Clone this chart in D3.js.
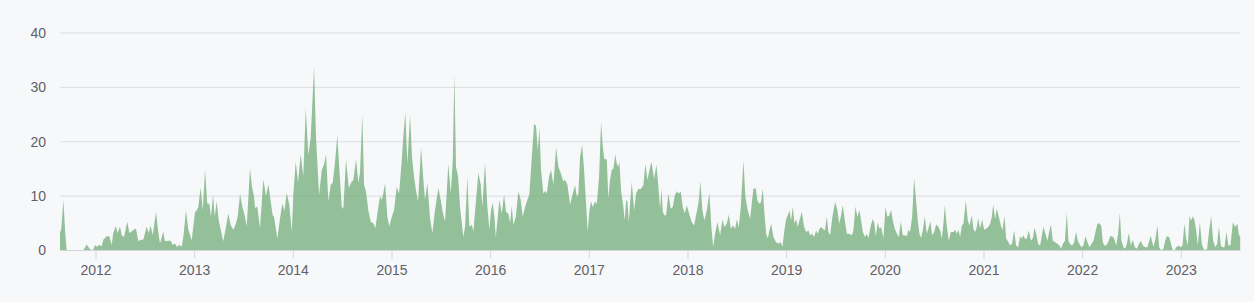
<!DOCTYPE html>
<html><head><meta charset="utf-8">
<script src="https://cdn.jsdelivr.net/npm/d3@7"></script>
<style>
html,body{margin:0;padding:0;background:#f7f8fa;}
svg{display:block;}
</style></head>
<body><svg id="c" width="1254" height="302"></svg>
<script>
const years = [
2011.635,2011.648,2011.669,2011.689,2011.703,2011.871,2011.906,2011.932,2011.956,2011.973,2011.990,
2012.007,2012.033,2012.058,2012.074,2012.108,2012.135,2012.159,2012.175,2012.200,2012.220,2012.243,2012.261,2012.284,2012.317,2012.338,2012.362,2012.378,2012.405,2012.429,2012.453,2012.479,2012.514,2012.534,2012.554,
2012.575,2012.608,2012.632,2012.649,2012.682,2012.699,2012.733,2012.757,2012.778,2012.801,2012.818,2012.844,2012.869,2012.885,2012.912,2012.936,2012.970,
2013.004,2013.021,2013.037,2013.061,2013.082,2013.105,2013.128,2013.149,2013.166,2013.186,2013.203,2013.224,2013.244,2013.264,2013.290,2013.318,2013.341,2013.365,2013.392,2013.419,2013.436,2013.460,2013.483,2013.510,2013.528,2013.561,2013.581,2013.602,
2013.612,2013.635,2013.662,2013.696,2013.723,2013.747,2013.771,2013.791,2013.804,2013.838,2013.865,2013.889,2013.909,2013.933,2013.960,2013.984,
2014.000,2014.024,2014.048,2014.075,2014.101,2014.126,2014.152,2014.176,2014.210,2014.230,2014.261,2014.288,2014.311,2014.332,2014.355,2014.379,2014.399,2014.423,2014.446,2014.466,2014.491,2014.507,2014.534,2014.562,2014.592,2014.608,
2014.636,2014.659,2014.676,2014.699,2014.717,2014.737,2014.760,2014.785,2014.811,2014.831,2014.852,2014.879,2014.896,2014.912,2014.930,2014.953,2014.973,2014.998,
2015.021,2015.048,2015.072,2015.099,2015.115,2015.135,2015.156,2015.183,2015.203,2015.224,2015.244,2015.264,2015.295,2015.318,2015.335,2015.358,2015.386,2015.409,2015.436,2015.470,2015.494,2015.515,2015.538,2015.571,2015.596,2015.616,2015.632,
2015.649,2015.670,2015.690,2015.723,2015.741,2015.764,2015.784,2015.809,2015.825,2015.852,2015.875,2015.900,2015.916,2015.943,2015.967,2015.987,
2016.004,2016.021,2016.038,2016.052,2016.072,2016.088,2016.113,2016.136,2016.156,2016.179,2016.197,2016.214,2016.230,2016.255,2016.281,2016.305,2016.325,2016.349,2016.372,2016.392,2016.417,2016.440,2016.460,2016.478,2016.494,2016.511,2016.534,2016.552,2016.569,2016.592,2016.612,2016.636,
2016.663,2016.686,2016.711,2016.737,2016.754,2016.778,2016.805,2016.832,2016.856,2016.873,2016.889,2016.906,2016.927,2016.947,2016.967,2016.984,
2017.001,2017.018,2017.035,2017.058,2017.076,2017.099,2017.119,2017.136,2017.153,2017.177,2017.193,2017.210,2017.228,2017.244,2017.264,2017.278,2017.295,2017.305,2017.322,2017.345,2017.359,2017.373,2017.386,2017.400,2017.413,2017.430,2017.454,2017.474,2017.497,2017.522,2017.548,2017.568,2017.589,2017.606,2017.629,
2017.657,2017.680,2017.700,2017.717,2017.731,2017.745,2017.761,2017.778,2017.801,2017.826,2017.846,2017.866,2017.887,2017.907,2017.927,2017.947,2017.968,2017.988,
2018.011,2018.039,2018.062,2018.089,2018.110,2018.126,2018.146,2018.166,2018.191,2018.217,2018.237,2018.255,2018.275,2018.298,2018.326,2018.349,2018.369,2018.393,2018.414,2018.434,2018.454,2018.478,2018.495,2018.515,2018.535,2018.562,2018.582,2018.606,2018.630,2018.650,
2018.663,2018.687,2018.704,2018.724,2018.741,2018.758,2018.775,2018.792,2018.809,2018.825,2018.843,2018.866,2018.893,2018.917,2018.941,2018.957,2018.977,2018.995,
2019.012,2019.028,2019.045,2019.062,2019.079,2019.096,2019.113,2019.129,2019.154,2019.177,2019.197,2019.221,2019.238,2019.258,2019.278,2019.299,2019.316,2019.332,2019.349,2019.367,2019.387,2019.407,2019.423,2019.441,2019.464,2019.491,2019.515,2019.532,2019.549,2019.569,2019.590,2019.610,2019.633,2019.660,
2019.677,2019.697,2019.717,2019.738,2019.755,2019.772,2019.795,2019.812,2019.829,2019.853,2019.873,2019.887,2019.904,2019.924,2019.940,2019.957,2019.981,
2020.001,2020.021,2020.042,2020.059,2020.076,2020.096,2020.117,2020.137,2020.157,2020.177,2020.198,2020.218,2020.234,2020.251,2020.272,2020.292,2020.312,2020.329,2020.346,2020.363,2020.380,2020.400,2020.420,2020.441,2020.457,2020.474,2020.495,2020.515,2020.535,2020.556,2020.573,2020.589,2020.603,2020.624,2020.644,2020.664,
2020.691,2020.708,2020.725,2020.741,2020.758,2020.776,2020.792,2020.816,2020.836,2020.853,2020.877,2020.893,2020.910,2020.928,2020.941,2020.961,2020.981,
2021.002,2021.022,2021.042,2021.063,2021.080,2021.093,2021.113,2021.130,2021.150,2021.171,2021.187,2021.208,2021.225,2021.248,2021.265,2021.285,2021.306,2021.326,2021.346,2021.367,2021.384,2021.400,2021.417,2021.434,2021.455,2021.475,2021.495,2021.511,2021.529,2021.549,2021.569,2021.587,2021.603,2021.623,2021.643,2021.661,2021.678,2021.698,2021.721,
2021.745,2021.765,2021.782,2021.799,2021.820,2021.840,2021.856,2021.873,2021.894,2021.914,2021.934,2021.951,2021.968,2021.988,
2022.008,2022.028,2022.049,2022.069,2022.089,2022.110,2022.130,2022.150,2022.167,2022.188,2022.205,2022.221,2022.238,2022.259,2022.279,2022.299,2022.319,2022.340,2022.360,2022.377,2022.393,2022.414,2022.431,2022.448,2022.468,2022.489,2022.509,2022.529,2022.550,2022.570,2022.590,2022.610,2022.634,2022.657,2022.689,
2022.718,2022.735,2022.758,2022.776,2022.796,2022.819,2022.836,2022.853,2022.877,2022.897,2022.914,2022.931,2022.948,2022.971,2022.992,
2023.012,2023.032,2023.049,2023.066,2023.083,2023.100,2023.117,2023.134,2023.151,2023.168,2023.188,2023.208,2023.225,2023.242,2023.262,2023.282,2023.303,2023.323,2023.343,2023.364,2023.381,2023.401,2023.417,2023.438,2023.458,2023.478,2023.498,2023.523,2023.546,2023.569,2023.583,2023.597
];
const values = [
3.2,4,9.3,3,0,0,1.1,0.4,0,0.2,1.0,
0.7,1.0,0.8,2.0,2.6,2.6,1.0,3.2,4.5,3.2,4.4,2.8,2.5,5.3,3.2,3.5,3.8,4.0,1.7,2.0,2.0,4.4,3.2,4.6,
2.8,7.1,3.2,1.3,3.5,1.7,1.8,1.8,1.0,1.3,0.7,1.0,0.7,2.5,7.3,3.8,1.9,
7.1,7.4,8.0,11.6,7.4,14.8,8.6,8.6,6.2,10.2,6.2,9.0,5.5,3.8,1.7,4.4,6.8,4.7,3.8,5.0,6.2,10.4,8.1,6.2,4.4,15.1,11.7,9.9,
7.8,8.1,4.1,13.1,10.0,12.2,9.0,6.5,6.2,2.2,5.9,8.7,7.2,10.6,8.3,3.5,
10.2,16.3,12.6,17.7,13.6,26.1,17.6,20.7,33.8,20.7,10.2,14.8,15.8,17.7,9.0,12.1,12.4,16.3,21.2,15.1,8.0,7.7,16.8,11.5,12.7,12.9,
16.8,12.4,14.3,24.9,12.1,10.8,7.4,5.3,5.0,4.1,6.8,10.0,9.3,10.5,12.4,6.2,4.4,6.2,
7.4,11.7,10.5,16.6,20.9,25.4,16.0,24.9,17.2,13.5,11.0,9.0,19.0,13.0,9.3,12.4,5.9,3.2,7.4,11.5,9.3,7.0,5.3,15.9,10.5,16.6,32.3,
15.4,13.6,8.0,2.5,4.4,13.6,4.4,4.7,3.5,9.3,14.3,12.1,8.0,16.2,8.0,3.8,
7.4,8.8,6.2,2.5,6.2,9.3,6.8,10.3,7.1,6.8,5.1,8.2,4.7,6.2,10.9,9.3,6.2,8.0,9.3,10.3,17.2,23.3,22.9,18.4,22.5,14.8,10.5,11.0,10.5,13.6,14.8,12.1,
19.0,15.4,14.2,12.7,13.0,12.1,8.4,10.5,12.0,9.9,10.5,17.2,19.4,14.8,8.6,3.5,
7.4,9.0,8.0,9.0,8.6,13.5,23.6,19.2,16.8,16.8,9.6,13.0,14.8,15.1,17.7,16.0,15.4,16.3,11.0,8.0,5.6,9.3,9.0,5.3,8.6,12.6,7.4,10.5,11.3,11.3,12.0,15.9,13.0,14.5,16.3,
13.2,15.8,11.7,7.7,11.4,7.1,6.5,6.5,10.5,7.7,8.0,10.1,10.9,10.5,10.8,8.0,6.8,8.3,
6.8,5.2,4.6,7.1,9.2,12.8,7.4,5.5,7.4,10.6,4.3,0.7,3.1,5.2,2.8,5.7,4.3,4.9,6.6,4.0,4.6,4.0,5.7,4.3,8.0,16.5,9.8,7.4,5.8,9.2,
11.4,11.4,9.2,8.6,8.9,11.4,6.8,3.1,2.2,3.7,4.9,2.5,1.5,1.3,1.5,0.7,3.7,5.8,
6.5,7.4,5.5,8.1,4.9,5.8,4.3,5.5,7.1,4.3,3.4,3.7,2.8,3.1,2.5,3.7,3.1,4.0,4.3,4.0,3.7,6.2,3.4,2.8,6.2,8.9,7.4,4.9,6.2,8.3,5.5,3.1,3.1,2.8,
3.7,8.1,6.2,7.4,5.5,3.4,2.5,3.1,2.3,4.6,5.8,5.2,2.6,5.2,4.0,4.3,2.3,
7.9,6.2,6.5,7.5,5.5,4.0,3.1,2.5,5.4,2.8,2.8,2.6,3.8,3.4,6.2,13.3,9.2,5.5,3.1,2.3,3.7,6.3,3.1,4.3,5.4,2.8,3.4,4.8,4.4,3.7,2.2,4.9,8.3,4.3,1.8,3.4,
3.4,3.8,3.1,3.8,2.5,4.6,4.9,9.2,5.5,4.6,6.5,4.0,3.4,4.3,6.0,4.0,5.7,
3.8,4.0,4.3,4.9,6.2,8.5,5.8,7.7,6.2,4.6,3.7,6.3,2.2,1.5,0.9,1.3,3.7,0.9,0.6,2.6,2.2,2.8,2.1,2.2,3.7,1.8,2.2,4.2,3.1,1.2,0.9,2.8,4.3,3.1,1.8,3.4,4.8,1.8,1.5,
1.2,0.9,0.3,1.2,1.8,6.9,1.8,1.2,0.9,1.5,3.4,1.8,1.2,0.6,
0.9,2.6,1.5,0.6,1.2,1.8,3.4,4.9,5.0,4.6,1.5,0.9,0.9,1.5,2.6,2.6,2.2,0.9,3.1,6.9,1.8,0.6,0.3,1.2,3.2,0.9,2.0,0.6,0.3,1.2,1.8,0.9,0.6,0.6,2.7,
0.7,1.8,4.6,0.6,0,0.3,1.8,2.6,2.5,1.2,0,0,0.6,0.9,0.6,
0.9,5.0,2.2,0.9,6.3,5.5,6.3,5.5,3.7,0.9,5.2,1.2,0.3,0,0.3,3.7,6.3,1.8,0.6,1.2,4.4,0.9,0.6,0.6,3.4,0.9,0.9,5.2,4.3,4.9,3.0,2.5
];
const yTicks = [0, 10, 20, 30, 40];
const xTickYears = [2012,2013,2014,2015,2016,2017,2018,2019,2020,2021,2022,2023];

const svg = d3.select("#c");
const x = d3.scaleLinear().domain([2012, 2023]).range([96, 1181.3]);
const y = d3.scaleLinear().domain([0, 40]).range([250.5, 33]);
const left = 60, right = 1240.5;

// grid
svg.append("g").selectAll("line").data(yTicks).join("line")
  .attr("x1", left).attr("x2", right)
  .attr("y1", d => y(d)).attr("y2", d => y(d))
  .attr("stroke", "#dcdde3").attr("stroke-width", 1);

const data = years.map((t, i) => ({t, v: values[i]}));
const area = d3.area().x(d => x(d.t)).y0(y(0)).y1(d => y(d.v)).curve(d3.curveLinear);
svg.append("path").datum(data).attr("d", area)
  .attr("fill", "rgb(106,168,111)").attr("fill-opacity", 0.7);

// y labels
svg.append("g").selectAll("text").data(yTicks).join("text")
  .attr("x", 46).attr("y", d => y(d)).attr("dy", "0.35em")
  .attr("text-anchor", "end")
  .attr("font-family", "Liberation Sans, Arial, sans-serif")
  .attr("font-size", 14).attr("fill", "#5f6166")
  .text(d => d);

// x axis line + ticks + labels
svg.append("line").attr("x1", left).attr("x2", right).attr("y1", y(0)).attr("y2", y(0))
  .attr("stroke", "#d3d4da");
svg.append("g").selectAll("line").data(xTickYears).join("line")
  .attr("x1", d => x(d)).attr("x2", d => x(d))
  .attr("y1", y(0)).attr("y2", y(0) + 8)
  .attr("stroke", "#d3d4da");
svg.append("g").selectAll("text").data(xTickYears).join("text")
  .attr("x", d => x(d)).attr("y", 275)
  .attr("text-anchor", "middle")
  .attr("font-family", "Liberation Sans, Arial, sans-serif")
  .attr("font-size", 14).attr("fill", "#5f6166")
  .text(d => d);
</script></body></html>
